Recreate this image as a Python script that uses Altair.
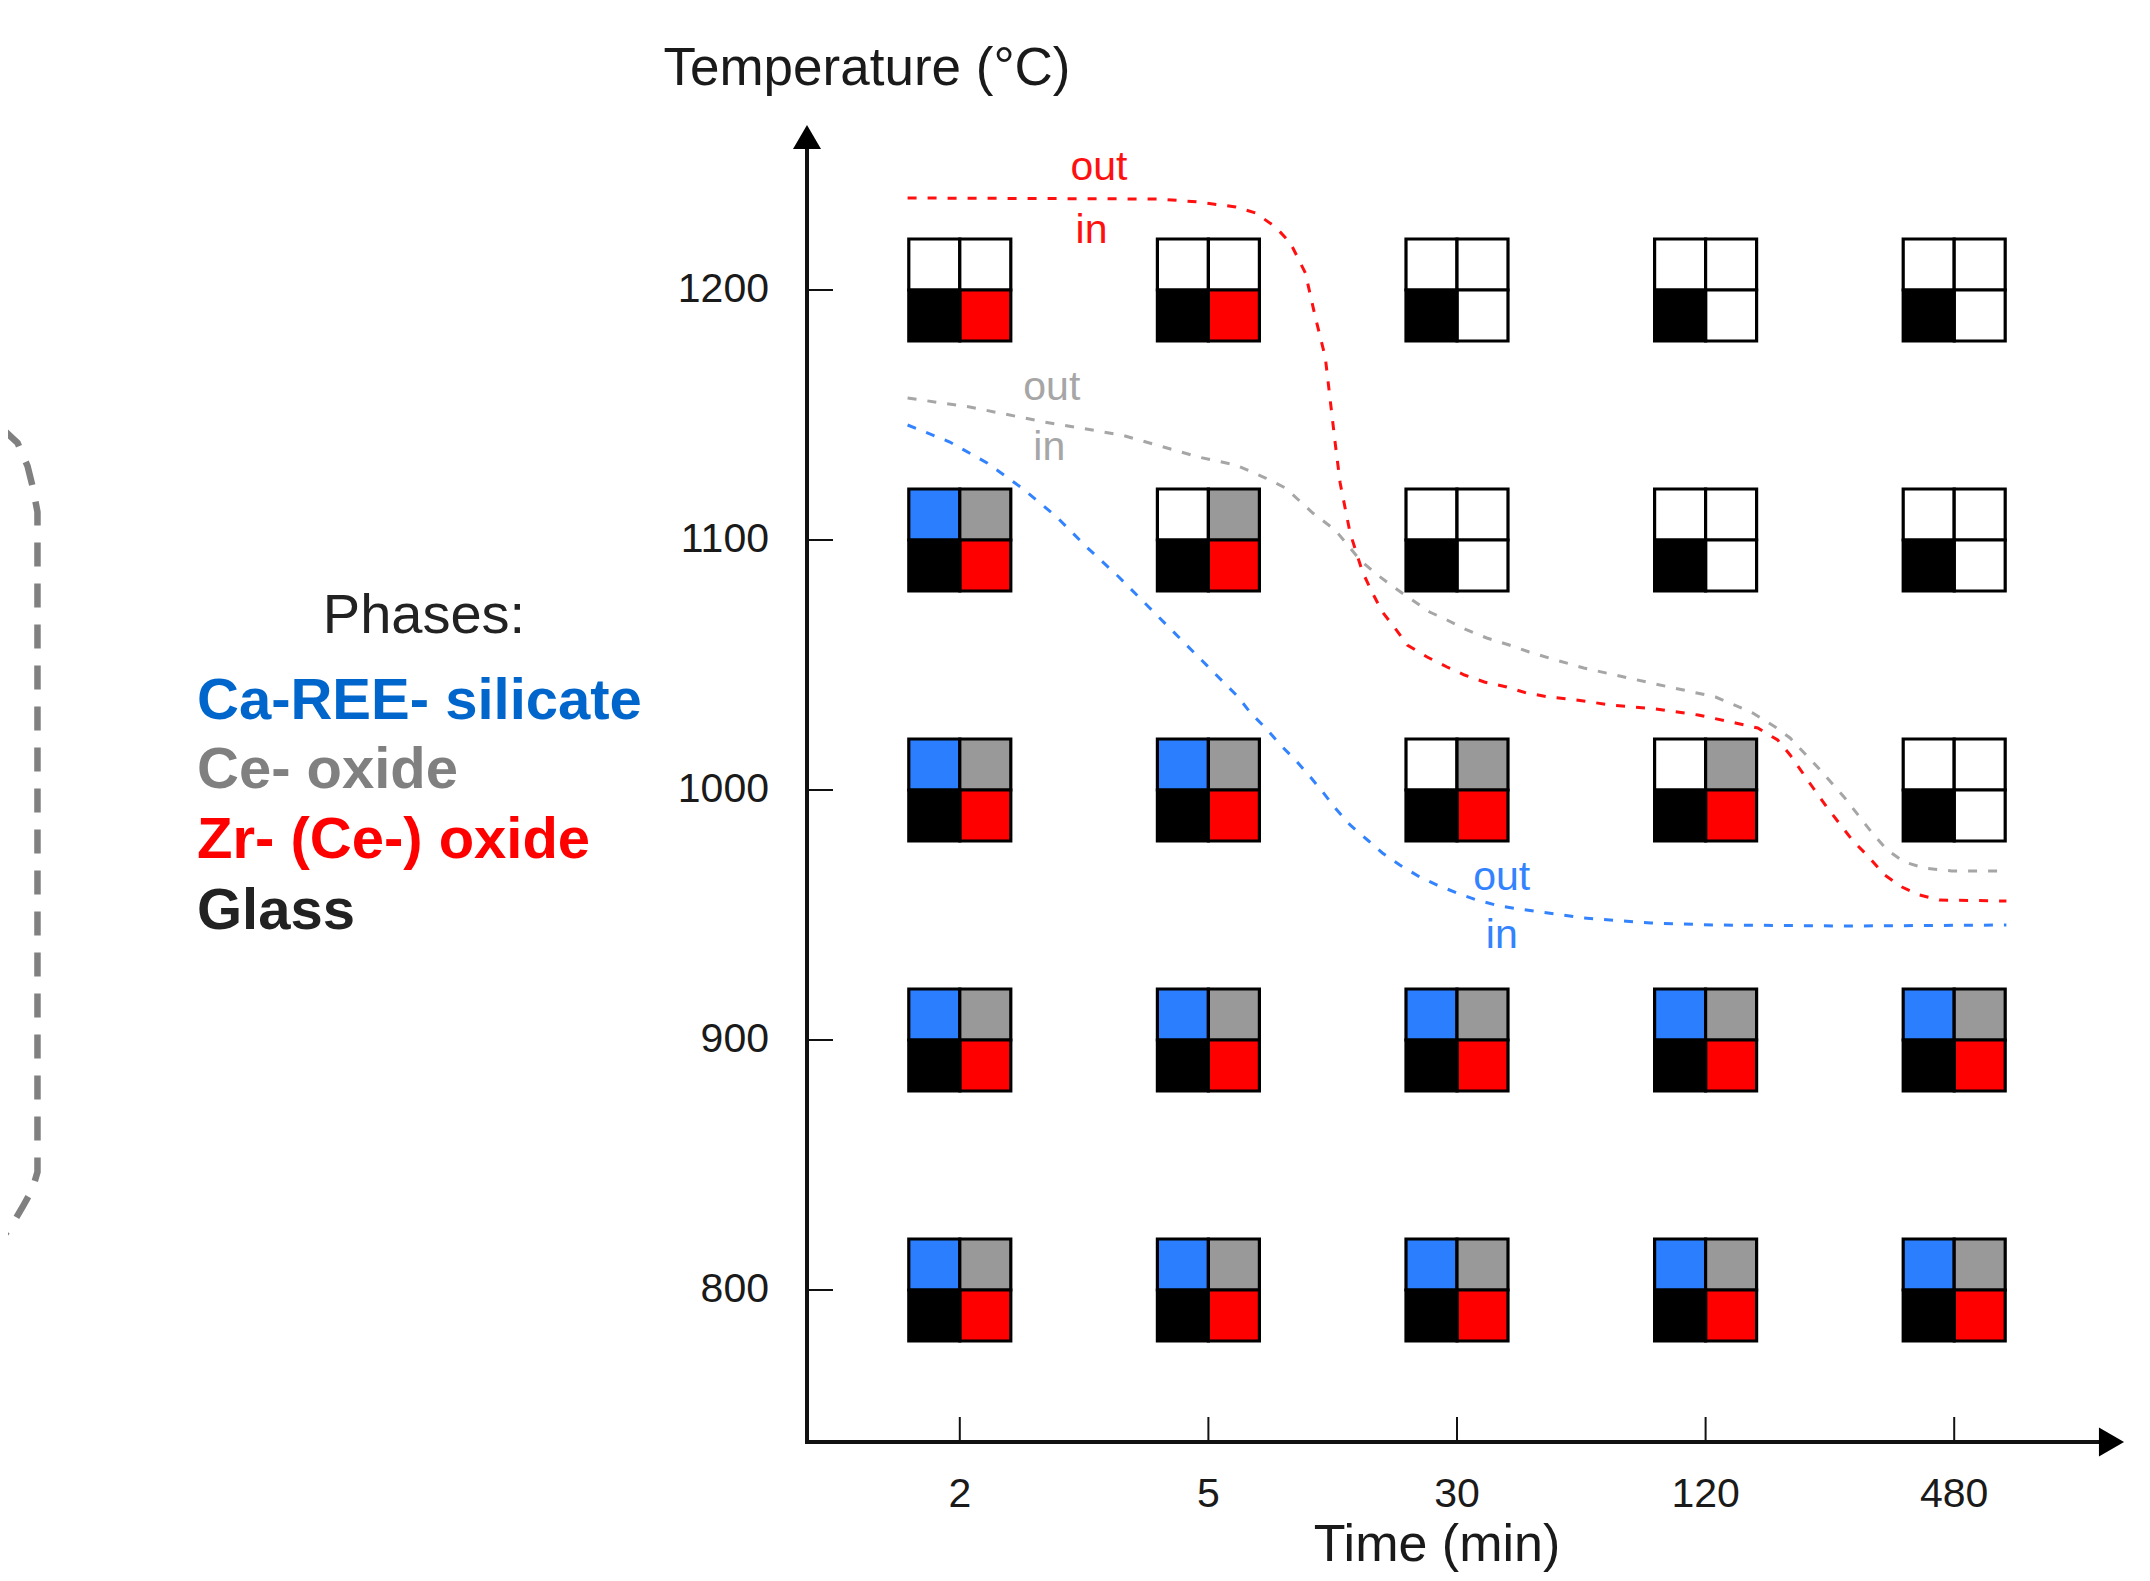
import altair as alt
import pandas as pd

# ---------------- data ----------------
times = ["2", "5", "30", "120", "480"]          # x categories (min)
temps = [1200, 1100, 1000, 900, 800]            # y rows (deg C)

phases = ["Ca-REE- silicate", "Ce- oxide", "Zr- (Ce-) oxide", "Glass"]

# presence of each phase (rows = temps, cols = times)
silicate = [[0, 0, 0, 0, 0],
            [1, 0, 0, 0, 0],
            [1, 1, 0, 0, 0],
            [1, 1, 1, 1, 1],
            [1, 1, 1, 1, 1]]
ce_oxide = [[0, 0, 0, 0, 0],
            [1, 1, 0, 0, 0],
            [1, 1, 1, 1, 0],
            [1, 1, 1, 1, 1],
            [1, 1, 1, 1, 1]]
zr_oxide = [[1, 1, 0, 0, 0],
            [1, 1, 0, 0, 0],
            [1, 1, 1, 1, 0],
            [1, 1, 1, 1, 1],
            [1, 1, 1, 1, 1]]
glass = [[1, 1, 1, 1, 1],
         [1, 1, 1, 1, 1],
         [1, 1, 1, 1, 1],
         [1, 1, 1, 1, 1],
         [1, 1, 1, 1, 1]]

# in/out boundary curves (x = time position index, t = temperature)
red_x = [-0.21, 0.80, 0.96, 1.11, 1.19, 1.27, 1.33, 1.39, 1.43, 1.47, 1.49, 1.51, 1.53, 1.57,
         1.62, 1.66, 1.70, 1.75, 1.80, 1.88, 1.96, 2.03, 2.11, 2.20, 2.28, 2.37, 2.45, 2.62,
         2.80, 2.97, 3.12, 3.21, 3.29, 3.34, 3.43, 3.49, 3.59, 3.66, 3.72, 3.79, 3.86, 3.94, 4.21]
red_t = [1236.8, 1236.4, 1235.2, 1233.2, 1230.8, 1225.2, 1218.8, 1206.8, 1189.2, 1173.2, 1156.0,
         1138.8, 1122.8, 1102.8, 1087.2, 1078.8, 1071.2, 1064.8, 1058.0, 1053.2, 1049.2, 1046.0,
         1043.2, 1041.2, 1038.8, 1037.2, 1036.4, 1034.0, 1032.4, 1030.0, 1026.8, 1024.8, 1020.0,
         1014.0, 1001.2, 992.8, 980.0, 972.8, 966.0, 961.2, 958.0, 956.0, 955.6]

gray_x = [-0.21, 0.04, 0.34, 0.65, 0.96, 1.11, 1.23, 1.31, 1.42, 1.51, 1.61, 1.68, 1.75, 1.82,
          1.89, 1.96, 2.04, 2.12, 2.21, 2.29, 2.37, 2.51, 2.78, 3.04, 3.19, 3.28, 3.34, 3.45,
          3.56, 3.67, 3.73, 3.80, 3.88, 3.99, 4.21]
gray_t = [1156.8, 1153.2, 1147.2, 1142.0, 1133.2, 1130.0, 1124.8, 1120.8, 1110.8, 1104.0,
          1092.0, 1086.0, 1080.8, 1076.0, 1071.2, 1068.0, 1064.0, 1060.8, 1058.0, 1055.2,
          1052.8, 1048.8, 1042.8, 1037.2, 1030.8, 1025.2, 1020.8, 1009.2, 996.8, 982.8,
          976.0, 971.2, 968.8, 967.6, 967.6]

blue_x = [-0.21, -0.04, 0.11, 0.25, 0.39, 0.51, 0.64, 0.76, 0.88, 0.94, 1.00, 1.06, 1.12, 1.17,
          1.23, 1.29, 1.35, 1.41, 1.46, 1.51, 1.57, 1.64, 1.70, 1.77, 1.85, 1.92, 2.00, 2.08,
          2.17, 2.25, 2.34, 2.51, 2.78, 3.04, 3.56, 4.21]
blue_t = [1146.0, 1139.2, 1130.8, 1120.8, 1109.2, 1097.2, 1085.2, 1073.2, 1061.2, 1055.2,
          1049.2, 1043.2, 1037.2, 1030.8, 1024.8, 1018.0, 1012.0, 1005.2, 999.2, 992.8, 986.0,
          980.0, 974.8, 970.0, 965.2, 962.0, 958.8, 956.0, 953.6, 952.4, 951.2, 948.8, 946.8,
          946.0, 945.6, 946.0]

# out / in labels
label_text = ["out", "in", "out", "in", "out", "in"]
label_phase = ["Zr- (Ce-) oxide", "Zr- (Ce-) oxide", "Ce- oxide", "Ce- oxide",
               "Ca-REE- silicate", "Ca-REE- silicate"]
label_x = [0.56, 0.53, 0.37, 0.36, 2.18, 2.18]
label_t = [1244.0, 1218.8, 1156.0, 1132.0, 960.0, 936.8]

# dashed bracket on the far left (part of surrounding figure)
brace_x = [-3.85, -3.79, -3.75, -3.73, -3.71, -3.71, -3.71, -3.71, -3.73, -3.77, -3.81, -3.86]
brace_t = [1144.4, 1138.8, 1129.6, 1121.6, 1111.2, 1095.2, 858.8, 847.2, 840.4, 833.2, 826.4, 819.6]

x_ticks = list(range(len(times)))
y_ticks = [800, 900, 1000, 1100, 1200]

# ---------------- tables ----------------
grids = {"Ca-REE- silicate": silicate, "Ce- oxide": ce_oxide,
         "Zr- (Ce-) oxide": zr_oxide, "Glass": glass}
cell_rows = []
for ph in phases:
    g = grids[ph]
    for r, T in enumerate(temps):
        for c in range(len(times)):
            cell_rows.append({"phase": ph, "pos": c, "temp": T,
                              "key": ph if g[r][c] else "absent"})
cells = pd.DataFrame(cell_rows)

curve_rows = []
for ph, xs_, ts_ in [("Zr- (Ce-) oxide", red_x, red_t), ("Ce- oxide", gray_x, gray_t),
                     ("Ca-REE- silicate", blue_x, blue_t)]:
    for i, (a, b) in enumerate(zip(xs_, ts_)):
        curve_rows.append({"phase": ph, "pos": a, "temp": b, "i": i})
curves = pd.DataFrame(curve_rows)

labels = pd.DataFrame({"text": label_text, "phase": label_phase, "pos": label_x, "temp": label_t})
brace = pd.DataFrame({"pos": brace_x, "temp": brace_t, "i": list(range(len(brace_x)))})
yt = pd.DataFrame({"temp": y_ticks, "label": [str(v) for v in y_ticks]})
xt = pd.DataFrame({"pos": x_ticks, "label": times})
one = pd.DataFrame({"a": [0]})

# ---------------- styling ----------------
W, H = 1317, 1317
FONT = "Liberation Sans"
x_scale = alt.Scale(domain=[-0.6146, 4.683], nice=False, zero=False)
y_scale = alt.Scale(domain=[739.2, 1266.0], nice=False, zero=False)

X = alt.X("pos:Q", scale=x_scale, axis=None)
Y = alt.Y("temp:Q", scale=y_scale, axis=None)

cell_colors = ["#2b7fff", "#999999", "#ff0000", "#000000"]
fill_scale = alt.Scale(domain=phases + ["absent"], range=cell_colors + ["#ffffff"])
line_scale = alt.Scale(domain=["Ca-REE- silicate", "Ce- oxide", "Zr- (Ce-) oxide"],
                       range=["#3383ff", "#a6a6a6", "#ff1010"])

offsets = {"Ca-REE- silicate": (-25.5, -25.5), "Ce- oxide": (25.5, -25.5),
           "Glass": (-25.5, 25.5), "Zr- (Ce-) oxide": (25.5, 25.5)}

layers = []

# glyph cells
for ph in phases:
    dx, dy = offsets[ph]
    layers.append(
        alt.Chart(cells).transform_filter(alt.datum.phase == ph)
        .mark_square(size=2601, xOffset=dx, yOffset=dy, filled=True, opacity=1,
                     stroke="#000000", strokeWidth=3.2, strokeOpacity=1)
        .encode(x=X, y=Y, fill=alt.Fill("key:N", scale=fill_scale, legend=None))
    )

# dashed boundary curves
layers.append(
    alt.Chart(curves).mark_line(strokeWidth=3, strokeDash=[9, 11])
    .encode(x=X, y=Y, order="i:Q",
            color=alt.Color("phase:N", scale=line_scale, legend=None))
)

# out / in labels
layers.append(
    alt.Chart(labels).mark_text(font=FONT, fontSize=41, align="center", baseline="alphabetic")
    .encode(x=X, y=Y, text="text:N",
            color=alt.Color("phase:N", scale=line_scale, legend=None))
)

# left bracket
layers.append(
    alt.Chart(brace).mark_line(color="#808080", strokeWidth=6.5, strokeDash=[24, 17])
    .encode(x=X, y=Y, order="i:Q")
)

# axis lines, ticks, arrowheads, tick labels
layers.append(alt.Chart(one).mark_rule(color="#111111", strokeWidth=4)
              .encode(x=alt.value(0), y=alt.value(H + 2), y2=alt.value(16)))
layers.append(alt.Chart(one).mark_rule(color="#111111", strokeWidth=4)
              .encode(x=alt.value(-2), x2=alt.value(W - 16), y=alt.value(H)))
layers.append(alt.Chart(one).mark_point(shape="triangle-up", size=784, filled=True,
                                        color="#000000", opacity=1)
              .encode(x=alt.value(0), y=alt.value(12)))
layers.append(alt.Chart(one).mark_point(shape="triangle-right", size=841, filled=True,
                                        color="#000000", opacity=1)
              .encode(x=alt.value(W - 12.5), y=alt.value(H)))
layers.append(alt.Chart(yt).mark_rule(color="#111111", strokeWidth=2)
              .encode(y=Y, x=alt.value(0), x2=alt.value(26)))
layers.append(alt.Chart(xt).mark_rule(color="#111111", strokeWidth=2)
              .encode(x=X, y=alt.value(H), y2=alt.value(H - 25)))
layers.append(alt.Chart(yt).mark_text(font=FONT, fontSize=41, align="right", baseline="middle",
                                      color="#1a1a1a", dx=-38)
              .encode(y=Y, x=alt.value(0), text="label:N"))
layers.append(alt.Chart(xt).mark_text(font=FONT, fontSize=41, align="center",
                                      baseline="alphabetic", color="#1a1a1a")
              .encode(x=X, y=alt.value(H + 65), text="label:N"))

# titles
layers.append(alt.Chart(one).mark_text(text="Temperature (°C)", font=FONT, fontSize=53,
                                       align="center", baseline="alphabetic", color="#1a1a1a")
              .encode(x=alt.value(60), y=alt.value(-40)))
layers.append(alt.Chart(one).mark_text(text="Time (min)", font=FONT, fontSize=52,
                                       align="center", baseline="alphabetic", color="#1a1a1a")
              .encode(x=alt.value(630), y=alt.value(1436)))

# phase legend text
layers.append(alt.Chart(one).mark_text(text="Phases:", font=FONT, fontSize=56,
                                       align="center", baseline="alphabetic", color="#222222")
              .encode(x=alt.value(-383), y=alt.value(508)))
legend_colors = ["#0066cc", "#808080", "#ff0000", "#222222"]
legend_y = [594, 663, 733, 804]
for name, col, ly in zip(phases, legend_colors, legend_y):
    layers.append(alt.Chart(one).mark_text(text=name, font=FONT, fontSize=58, fontWeight="bold",
                                           align="left", baseline="alphabetic", color=col)
                  .encode(x=alt.value(-610), y=alt.value(ly)))

chart = (
    alt.layer(*layers)
    .properties(width=W, height=H,
                autosize=alt.AutoSizeParams(type="none"),
                padding={"left": 799, "top": 117, "right": 10, "bottom": 131},
                background="white")
    .configure_view(stroke=None)
)

chart.save("out.html", embed_options={"renderer": "svg", "actions": False})
